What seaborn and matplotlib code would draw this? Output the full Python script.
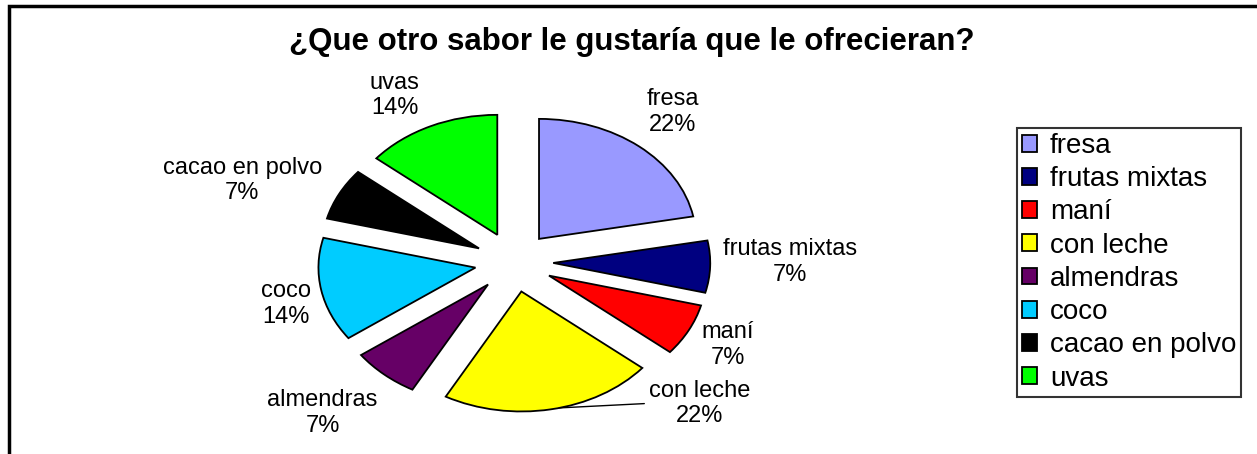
import numpy as np
import matplotlib
matplotlib.use("Agg")
import matplotlib.pyplot as plt
import matplotlib.patches as mpatches
import seaborn as sns

# data (clockwise from 12 o'clock)
sabores = ['fresa', 'frutas mixtas', 'maní', 'con leche', 'almendras', 'coco', 'cacao en polvo', 'uvas']
porcentajes = [22, 7, 7, 22, 7, 14, 7, 14]
colores = ['#9999FF', '#000080', '#FF0000', '#FFFF00', '#660066', '#00CCFF', '#000000', '#00FF00']

# label centres in pie units (layout only)
label_pos = [(1.01, 1.25), (1.76, 0.0), (1.36, -0.69), (1.18, -1.18),
             (-1.22, -1.26), (-1.45, -0.35), (-1.73, 0.68), (-0.76, 1.39)]

sns.set_theme(style='white')
plt.rcParams['font.family'] = ['Liberation Sans', 'DejaVu Sans']
plt.rcParams['text.color'] = 'black'

W, H = 1257, 454
fig = plt.figure(figsize=(W / 100, H / 100), dpi=100)

# pie is stretched horizontally: 157 px per unit in x, 120 px in y
rx, ry = 157, 120
cx, cy = 514, 262
a, b = 3.2, 1.6
ax = fig.add_axes([(cx - a * rx) / W, (H - cy - b * ry) / H, 2 * a * rx / W, 2 * b * ry / H])

wedges, _ = ax.pie(porcentajes, colors=colores, startangle=90, counterclock=False,
                   explode=[0.25] * len(porcentajes),
                   wedgeprops=dict(edgecolor='black', linewidth=1.3))
ax.set_aspect('auto')
ax.set_xlim(-a, a)
ax.set_ylim(-b, b)
ax.axis('off')

for (x, y), nombre, p in zip(label_pos, sabores, porcentajes):
    ax.text(x, y, f"{nombre}\n{p}%", ha='center', va='center', fontsize=17, linespacing=1.2,
            color='black')

# leader line for "con leche"
w = wedges[3]
ang = np.deg2rad(-76)
px = w.center[0] + w.r * np.cos(ang)
py = w.center[1] + w.r * np.sin(ang)
ax.annotate('', xy=(px, py), xytext=(0.83, -1.18),
            arrowprops=dict(arrowstyle='-', color='black', lw=1, shrinkA=0, shrinkB=0))

fig.text(632 / W, 1 - 42 / H, '¿Que otro sabor le gustaría que le ofrecieran?',
         ha='center', va='center', fontsize=22.5, fontweight='bold', color='black')

leg = fig.legend(wedges, sabores, loc='upper left', bbox_to_anchor=(1017 / W, 1 - 128 / H),
                 fontsize=20, frameon=True, fancybox=False, handlelength=0.55, handleheight=0.55,
                 handletextpad=0.45, labelspacing=0.26, borderpad=0.18, borderaxespad=0)
leg.get_frame().set_edgecolor('black')
leg.get_frame().set_linewidth(1.5)
for t in leg.get_texts():
    t.set_color('black')

# outer chart border (only left and top fall inside the picture)
fig.add_artist(mpatches.Rectangle((9 / W, -0.2), 1.2, (H - 6) / H + 0.2, transform=fig.transFigure,
                                  fill=False, edgecolor='black', linewidth=2.5))

fig.savefig('out.png', dpi=100, facecolor='white')
